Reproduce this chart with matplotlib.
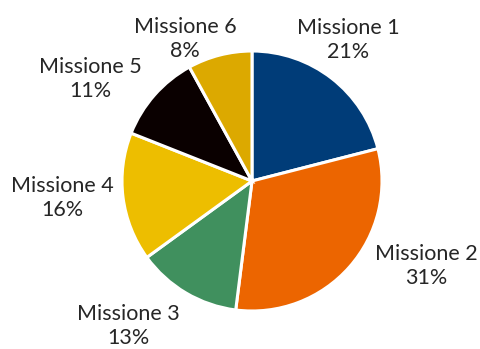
import matplotlib
matplotlib.use("Agg")
import matplotlib.pyplot as plt

labels = ["Missione 1", "Missione 2", "Missione 3", "Missione 4", "Missione 5", "Missione 6"]
values = [21, 31, 13, 16, 11, 8]
colors = ["#003C78", "#EC6500", "#40905E", "#EDBE00", "#0A0000", "#DCA900"]

# label centre positions in pixels (text annotations)
label_px = [(348, 40), (426, 266), (128, 326), (62, 198), (90, 79), (185, 39)]

W, H = 480, 349
cx, cy, R = 252, 181, 130

fig = plt.figure(figsize=(W / 100, H / 100), dpi=100)
ax = fig.add_axes([0, 0, 1, 1])
ax.axis("off")

ax.pie(values, colors=colors, startangle=90, counterclock=False,
       radius=1.0, wedgeprops=dict(edgecolor="white", linewidth=2.2))
ax.set_xlim(-cx / R, (W - cx) / R)
ax.set_ylim(-(H - cy) / R, cy / R)
ax.set_aspect("equal")

total = sum(values)
for lab, v, (px, py) in zip(labels, values, label_px):
    ax.text((px - cx) / R, (cy - py) / R, f"{lab}\n{round(100 * v / total)}%",
            ha="center", va="center", fontsize=15.5, family="Lato",
            color="#262626", linespacing=1.2)

fig.savefig("out.png", dpi=100)
